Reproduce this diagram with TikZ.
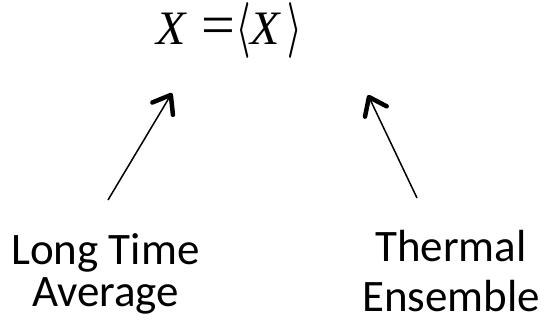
\documentclass[tikz,border=0pt]{standalone}
\usepackage{graphicx}
\usepackage{fontspec}
\setmainfont{Carlito}
\newfontfamily\eqfont{Liberation Serif}
\usetikzlibrary{arrows.meta}
\newcommand{\eqbr}[1]{\scalebox{3.2}[5.6]{\fontsize{10}{12}\selectfont\boldmath$#1$}}
\tikzset{
  lbl/.style={align=center, inner sep=0pt},
  eqn/.style={font=\fontsize{48}{50}\selectfont\eqfont, inner sep=0pt},
  ptr/.style={line width=1.5pt, -{Straight Barb[length=16pt,width=24pt,line width=4.5pt,round]}}
}
\begin{document}
\begin{tikzpicture}[x=1pt,y=-1pt]
\useasboundingbox (0,0) rectangle (546,328);
\node[eqn, anchor=base west] (eq) at (156,45) {\itshape X\hspace{16pt}\upshape\scalebox{1.25}[1.2]{=}\hspace{1pt}\eqbr{\langle}\itshape X\hspace{8pt}\eqbr{\rangle}};
\node[lbl, font=\fontsize{45}{42}\selectfont, anchor=base] (lta) at (105.5,307) {Long Time\\Average};
\node[lbl, font=\fontsize{45}{50}\selectfont, anchor=base] (te) at (451,312) {Thermal\\Ensemble};
\coordinate (ltip) at (172,93);
\coordinate (ltail) at (108,200);
\coordinate (rtip) at (368,95);
\coordinate (rtail) at (417,198);
\draw[ptr] (ltail) -- (ltip);
\draw[ptr] (rtail) -- (rtip);
\end{tikzpicture}
\end{document}
